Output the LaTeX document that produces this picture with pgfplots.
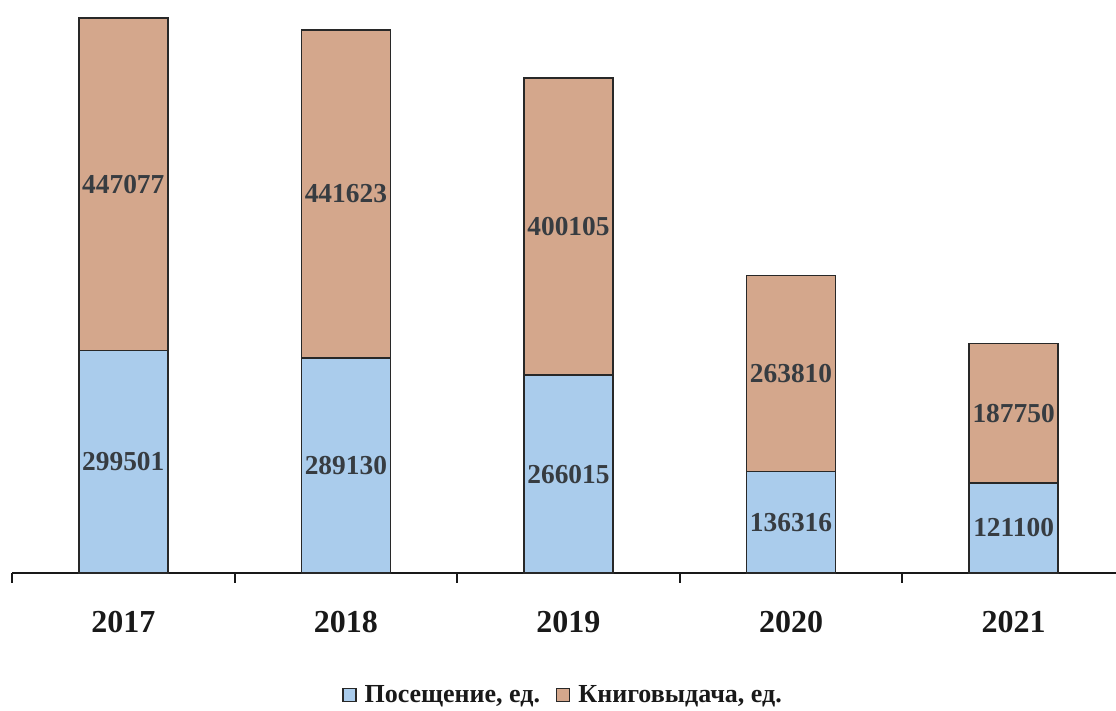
\documentclass[border=0pt]{standalone}
\usepackage{pgfplots}
\pgfplotsset{compat=1.18}
\usepackage{fontspec}
\setmainfont{Liberation Serif}

\definecolor{visitblue}{RGB}{170,204,236}
\definecolor{booktan}{RGB}{212,167,140}
\definecolor{edge}{RGB}{40,40,40}
\definecolor{labelgray}{RGB}{55,60,65}

\begin{document}
\begin{tikzpicture}
\begin{axis}[
    at={(6pt,69pt)}, anchor=south west,
    scale only axis,
    width=552pt, height=286.5pt,
    ybar stacked,
    bar width=44.5pt,
    xmin=-0.5, xmax=4.46,
    ymin=0, ymax=770800,
    axis x line*=bottom,
    axis y line=none,
    axis line style={line width=1pt, black!90},
    xtick={0,1,2,3,4},
    xticklabels={2017,2018,2019,2020,2021},
    major tick length=0pt,
    extra x ticks={-0.5,0.5,1.5,2.5,3.5},
    extra x tick labels={},
    extra x tick style={major tick length=5pt, tick style={line width=1pt, black!90}, tick align=outside},
    xticklabel style={font=\fontsize{16}{18}\selectfont\bfseries, anchor=center, yshift=-24.5pt, text=black!90},
    clip=false,
    point meta=rawy,
    nodes near coords={\pgfmathprintnumber[fixed,precision=0,1000 sep={},assume math mode=true]{\pgfplotspointmeta}},
    every node near coord/.append style={anchor=center, font=\fontsize{13.7}{15}\selectfont\bfseries, text=labelgray},
    legend style={at={(0.5,-0.213)}, anchor=center, draw=none, fill=none,
        font=\fontsize{13}{14}\selectfont\bfseries, text=black!90,
        legend columns=2, column sep=2pt,
        /tikz/every even column/.append style={column sep=6pt}},
    legend image code/.code={\draw[#1, draw=edge, line width=0.7pt] (0pt,-3.2pt) rectangle (6.5pt,3.3pt);},
]
\addplot[fill=visitblue, draw=edge, line width=0.8pt] coordinates {
    (0,299501) (1,289130) (2,266015) (3,136316) (4,121100)
};
\addplot[fill=booktan, draw=edge, line width=0.8pt] coordinates {
    (0,447077) (1,441623) (2,400105) (3,263810) (4,187750)
};
\legend{{Посещение, ед.}, {Книговыдача, ед.}}
\end{axis}
\pgfresetboundingbox
\path[use as bounding box] (0,0) rectangle (558pt,355.5pt);
\end{tikzpicture}
\end{document}
